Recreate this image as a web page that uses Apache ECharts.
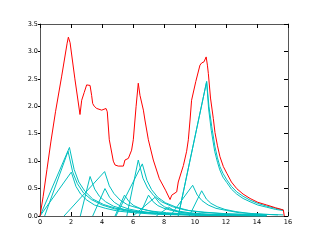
<!DOCTYPE html>
<html><head><meta charset="utf-8">
<script src="https://cdn.jsdelivr.net/npm/echarts@6/dist/echarts.min.js"></script>
<style>html,body{margin:0;padding:0;background:#fff}#c{width:320px;height:240px}</style>
</head><body><div id="c"></div>
<script>
var xTicks = [0, 2, 4, 6, 8, 10, 12, 14, 16];
var yTicks = [0.0, 0.5, 1.0, 1.5, 2.0, 2.5, 3.0, 3.5];

var redTotal = [[0,0],[0.2,0.35],[0.45,0.85],[0.7,1.35],[1.0,1.9],[1.4,2.55],[1.75,3.15],[1.83,3.26],[1.94,3.16],[2.25,2.5],[2.58,1.85],[2.69,2.11],[2.85,2.25],[3.01,2.39],[3.23,2.38],[3.33,2.2],[3.4,2.05],[3.5,2.0],[3.66,1.96],[3.98,1.93],[4.26,1.96],[4.34,1.9],[4.47,1.39],[4.73,1.0],[4.84,0.93],[5.05,0.91],[5.38,0.91],[5.48,1.02],[5.7,1.05],[5.91,1.2],[6.02,1.39],[6.2,2.0],[6.34,2.42],[6.45,2.2],[6.67,1.93],[6.77,1.75],[6.99,1.39],[7.31,1.02],[7.7,0.68],[8.1,0.47],[8.39,0.30],[8.5,0.38],[8.82,0.44],[8.92,0.62],[9.25,0.92],[9.46,1.18],[9.57,1.39],[9.68,1.75],[9.78,2.11],[10.05,2.45],[10.32,2.75],[10.43,2.79],[10.58,2.81],[10.72,2.9],[10.8,2.75],[10.86,2.6],[11.0,2.15],[11.18,1.78],[11.29,1.52],[11.45,1.28],[11.61,1.08],[11.83,0.9],[12.05,0.78],[12.35,0.62],[12.69,0.50],[13.1,0.40],[13.55,0.32],[14.05,0.25],[14.63,0.20],[15.2,0.15],[15.7,0.11],[15.76,0]];

var cyan1 = [[0,0],[1.9,1.25],[2.2,0.85],[2.5,0.62],[2.9,0.45],[3.4,0.31],[4.1,0.21],[4.9,0.14],[5.9,0.09],[7.4,0.05],[8.9,0.03],[10.9,0.02],[14.5,0.01]];
var cyan2 = [[0.3,0],[1.81,1.18],[2.11,0.80],[2.41,0.59],[2.81,0.42],[3.31,0.30],[4.01,0.20],[4.81,0.13],[5.81,0.08],[7.31,0.05],[8.81,0.03],[10.81,0.02],[14.5,0.01]];
var cyan3 = [[0,0],[2.02,0.80],[2.32,0.54],[2.62,0.40],[3.02,0.29],[3.52,0.20],[4.22,0.14],[5.02,0.09],[6.02,0.06],[7.52,0.03],[9.02,0.02],[11.02,0.01],[14.5,0.005]];
var cyan4 = [[1.55,0],[4.17,0.81],[4.47,0.55],[4.77,0.41],[5.17,0.29],[5.67,0.20],[6.37,0.14],[7.17,0.09],[8.17,0.06],[9.67,0.03],[11.17,0.02],[13.17,0.01],[14.6,0.005]];
var cyan5 = [[2.6,0],[3.23,0.72],[3.53,0.49],[3.83,0.36],[4.23,0.26],[4.73,0.18],[5.43,0.12],[6.23,0.08],[7.23,0.05],[8.73,0.03],[10.23,0.02],[12.23,0.01],[14.6,0.005]];
var cyan6 = [[3.4,0],[4.19,0.50],[4.49,0.34],[4.79,0.25],[5.19,0.18],[5.69,0.13],[6.39,0.09],[7.19,0.06],[8.19,0.04],[9.69,0.02],[11.19,0.01],[14.6,0.005]];
var cyan7 = [[4.84,0],[5.45,0.38],[5.75,0.26],[6.05,0.19],[6.45,0.14],[6.95,0.10],[7.65,0.06],[8.45,0.04],[9.45,0.03],[10.95,0.02],[12.45,0.01],[14.6,0.005]];
var cyan8 = [[5.6,0],[6.34,1.02],[6.64,0.69],[6.94,0.51],[7.34,0.37],[7.84,0.26],[8.54,0.17],[9.34,0.11],[10.34,0.07],[11.84,0.04],[13.34,0.03],[14.6,0.02]];
var cyan9 = [[4.9,0],[6.6,0.95],[6.9,0.65],[7.2,0.48],[7.6,0.34],[8.1,0.24],[8.8,0.16],[9.6,0.10],[10.6,0.07],[12.1,0.04],[13.6,0.02],[14.6,0.015]];
var cyan10 = [[6.4,0],[7.0,0.38],[7.3,0.26],[7.6,0.19],[8.0,0.14],[8.5,0.10],[9.2,0.06],[10.0,0.04],[11.0,0.03],[12.5,0.02],[14.0,0.01],[14.6,0.005]];
var cyan11 = [[6.0,0],[7.42,0.34],[7.72,0.23],[8.02,0.17],[8.42,0.12],[8.92,0.09],[9.62,0.06],[10.42,0.04],[11.42,0.02],[12.92,0.01],[14.6,0.005]];
var cyan12 = [[7.5,0],[8.3,0.16],[8.6,0.11],[8.9,0.08],[9.3,0.06],[9.8,0.04],[10.5,0.03],[11.3,0.02],[12.3,0.01],[14.6,0.005]];
var cyan13 = [[8.4,0],[9.85,0.56],[10.15,0.38],[10.45,0.28],[10.85,0.20],[11.35,0.14],[12.05,0.10],[12.85,0.06],[13.85,0.04],[15.35,0.02]];
var cyan14 = [[9.63,0],[10.43,0.46],[10.73,0.31],[11.03,0.23],[11.43,0.17],[11.93,0.12],[12.63,0.08],[13.43,0.05],[14.43,0.03],[15.7,0.02]];
var cyan15 = [[8.92,0],[10.75,2.45],[10.9,2.0],[11.08,1.63],[11.29,1.26],[11.45,1.06],[11.61,0.90],[11.8,0.78],[12.05,0.66],[12.35,0.54],[12.69,0.44],[13.1,0.36],[13.55,0.29],[14.05,0.23],[14.63,0.18],[15.2,0.14],[15.7,0.11]];
var cyan16 = [[8.92,0],[10.75,2.45],[10.88,1.95],[11.05,1.56],[11.27,1.18],[11.45,0.98],[11.6,0.84],[11.8,0.71],[12.05,0.61],[12.35,0.49],[12.69,0.40],[13.1,0.32],[13.55,0.26],[14.05,0.20],[14.63,0.16],[15.2,0.12],[15.7,0.10]];

var cyanCurves = [cyan1,cyan2,cyan3,cyan4,cyan5,cyan6,cyan7,cyan8,cyan9,cyan10,cyan11,cyan12,cyan13,cyan14,cyan15,cyan16];

var chart = echarts.init(document.getElementById('c'), null, {renderer:'canvas'});
var axisLine = {show:true, onZero:false, lineStyle:{color:'#555', width:1}};
var fontBase = {fontFamily:'DejaVu Sans', fontSize:6.5, color:'#000'};

var series = [];
cyanCurves.forEach(function(d){
  series.push({type:'line', data:d, showSymbol:false, symbol:'none', silent:true,
    lineStyle:{color:'#00bfbf', width:1}, animation:false, xAxisIndex:0, yAxisIndex:0});
});
series.push({type:'line', data:redTotal, showSymbol:false, symbol:'none', silent:true,
  lineStyle:{color:'#ff0000', width:1}, animation:false, xAxisIndex:0, yAxisIndex:0, z:5});

chart.setOption({
  animation:false,
  backgroundColor:'#fff',
  grid:{left:40, right:32, top:24, bottom:24, containLabel:false},
  xAxis:[
    {type:'value', position:'bottom', min:xTicks[0], max:xTicks[xTicks.length-1], interval:2,
     axisLine:axisLine, axisTick:{show:true, inside:true, length:4, lineStyle:{color:'#000'}},
     axisLabel:Object.assign({margin:3, formatter:function(v){return String(v);}}, fontBase),
     splitLine:{show:false}},
    {type:'value', position:'top', min:xTicks[0], max:xTicks[xTicks.length-1], interval:2,
     axisLine:axisLine, axisTick:{show:true, inside:true, length:4, lineStyle:{color:'#000'}},
     axisLabel:{show:false}, splitLine:{show:false}}
  ],
  yAxis:[
    {type:'value', position:'left', min:yTicks[0], max:yTicks[yTicks.length-1], interval:0.5,
     axisLine:axisLine, axisTick:{show:true, inside:false, length:2, lineStyle:{color:'#000'}},
     axisLabel:Object.assign({margin:2, formatter:function(v){return v.toFixed(1);}}, fontBase),
     splitLine:{show:false}},
    {type:'value', position:'right', min:yTicks[0], max:yTicks[yTicks.length-1], interval:0.5,
     axisLine:axisLine, axisTick:{show:true, inside:true, length:4, lineStyle:{color:'#000'}},
     axisLabel:{show:false}, splitLine:{show:false}}
  ],
  series:series
});
</script></body></html>
